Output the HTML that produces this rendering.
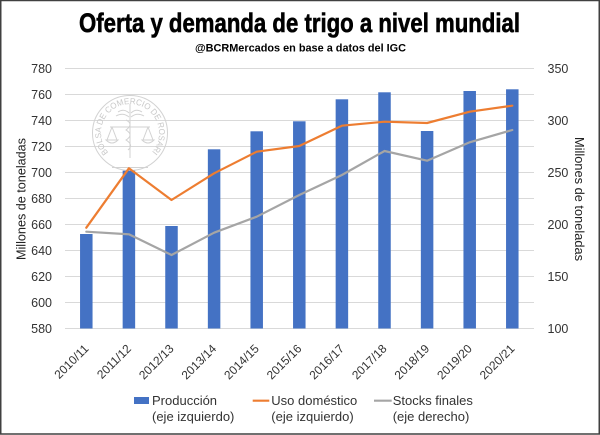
<!DOCTYPE html>
<html><head><meta charset="utf-8"><style>
html,body{margin:0;padding:0;background:#fff;}
#c{position:relative;width:600px;height:435px;overflow:hidden;background:#fff;}
svg{position:absolute;left:0;top:0;}
text{font-family:"Liberation Sans",sans-serif;}
</style></head><body><div id="c">
<svg width="600" height="435" viewBox="0 0 600 435" xmlns="http://www.w3.org/2000/svg">
<rect x="0.75" y="0.5" width="598.5" height="433.5" fill="#fff" stroke="#404040" stroke-width="1.5"/>
<!-- title -->
<text x="79" y="32" font-size="27" font-weight="bold" fill="#000" stroke="#000" stroke-width="0.6" textLength="441" lengthAdjust="spacingAndGlyphs">Oferta y demanda de trigo a nivel mundial</text>
<text x="195" y="51.5" font-size="11" font-weight="bold" fill="#000" textLength="211" lengthAdjust="spacingAndGlyphs">@BCRMercados  en base a datos del IGC</text>
<!-- gridlines -->
<g stroke="#D9D9D9" stroke-width="1">
<line x1="65" x2="534" y1="68.5" y2="68.5"/>
<line x1="65" x2="534" y1="94.5" y2="94.5"/>
<line x1="65" x2="534" y1="120.5" y2="120.5"/>
<line x1="65" x2="534" y1="146.5" y2="146.5"/>
<line x1="65" x2="534" y1="172.5" y2="172.5"/>
<line x1="65" x2="534" y1="198.5" y2="198.5"/>
<line x1="65" x2="534" y1="224.5" y2="224.5"/>
<line x1="65" x2="534" y1="250.5" y2="250.5"/>
<line x1="65" x2="534" y1="276.5" y2="276.5"/>
<line x1="65" x2="534" y1="302.5" y2="302.5"/>
<line x1="65" x2="534" y1="328.5" y2="328.5"/>
</g>
<!-- watermark -->
<g fill="none" stroke="#d2d2d2" stroke-width="1">
<circle cx="130" cy="133" r="37.5"/>
<path d="M118 112 Q124 108 129 113 M142 112 Q136 108 131 113" />
<path d="M116 116 Q123 112 129 117 M144 116 Q137 112 131 117" />
<line x1="130" y1="104" x2="130" y2="158"/>
<path d="M126 120 Q134 124 126 130 Q134 135 126 140 Q134 145 128 150"/>
<line x1="110" y1="127" x2="150" y2="127"/>
<path d="M112 127 L107 140 M112 127 L117 140 M148 127 L143 140 M148 127 L153 140"/>
<path d="M106 140 Q112 146 118 140 Z M142 140 Q148 146 154 140 Z"/>
<line x1="112" y1="167.5" x2="148" y2="167.5"/>
</g>
<path id="arc" d="M108.45 152.4 A29 29 0 1 1 151.55 152.4" fill="none"/>
<text font-size="8.5" fill="#c8c8c8"><textPath href="#arc" textLength="139" lengthAdjust="spacingAndGlyphs">BOLSA DE COMERCIO DE ROSARIO</textPath></text>
<!-- bars -->
<g fill="#4472C4">
<rect x="80.05" y="234" width="12.5" height="94.5"/>
<rect x="122.65" y="170.7" width="12.5" height="157.8"/>
<rect x="165.25" y="226" width="12.5" height="102.5"/>
<rect x="207.85" y="149.3" width="12.5" height="179.2"/>
<rect x="250.45" y="131.3" width="12.5" height="197.2"/>
<rect x="293.05" y="121.3" width="12.5" height="207.2"/>
<rect x="335.65" y="99.3" width="12.5" height="229.2"/>
<rect x="378.25" y="92.3" width="12.5" height="236.2"/>
<rect x="420.85" y="131" width="12.5" height="197.5"/>
<rect x="463.45" y="91" width="12.5" height="237.5"/>
<rect x="506.05" y="89.3" width="12.5" height="239.2"/>
</g>
<!-- lines -->
<polyline fill="none" stroke="#ED7D31" stroke-width="2.2" stroke-linejoin="round" stroke-linecap="round" points="86.3,227.7 128.9,168.3 171.5,200 214.1,173.3 256.7,151.7 299.3,146 341.9,125.7 384.5,121.7 427.1,123 469.7,111.7 512.3,105.7"/>
<polyline fill="none" stroke="#A5A5A5" stroke-width="2.2" stroke-linejoin="round" stroke-linecap="round" points="86.3,231.7 128.9,234.3 171.5,255 214.1,232.7 256.7,216.7 299.3,195 341.9,175 384.5,151 427.1,160.7 469.7,142.3 512.3,130"/>
<!-- left ticks -->
<g font-size="12.5" fill="#333" text-anchor="end">
<text x="52" y="73">780</text>
<text x="52" y="99">760</text>
<text x="52" y="125">740</text>
<text x="52" y="151">720</text>
<text x="52" y="177">700</text>
<text x="52" y="203">680</text>
<text x="52" y="229">660</text>
<text x="52" y="255">640</text>
<text x="52" y="281">620</text>
<text x="52" y="307">600</text>
<text x="52" y="333">580</text>
</g>
<!-- right ticks -->
<g font-size="12.5" fill="#333">
<text x="547.5" y="73">350</text>
<text x="547.5" y="125">300</text>
<text x="547.5" y="177">250</text>
<text x="547.5" y="229">200</text>
<text x="547.5" y="281">150</text>
<text x="547.5" y="333">100</text>
</g>
<!-- axis titles -->
<text transform="translate(25.5,199) rotate(-90)" font-size="12.5" fill="#222" text-anchor="middle" textLength="122" lengthAdjust="spacingAndGlyphs">Millones de toneladas</text>
<text transform="translate(575,199) rotate(90)" font-size="12.5" fill="#222" text-anchor="middle" textLength="124" lengthAdjust="spacingAndGlyphs">Millones de toneladas</text>
<!-- x labels -->
<g font-size="12" fill="#333" text-anchor="end">
<text transform="translate(89.3,349.4) rotate(-45)">2010/11</text>
<text transform="translate(131.9,349.4) rotate(-45)">2011/12</text>
<text transform="translate(174.5,349.4) rotate(-45)">2012/13</text>
<text transform="translate(217.1,349.4) rotate(-45)">2013/14</text>
<text transform="translate(259.7,349.4) rotate(-45)">2014/15</text>
<text transform="translate(302.3,349.4) rotate(-45)">2015/16</text>
<text transform="translate(344.9,349.4) rotate(-45)">2016/17</text>
<text transform="translate(387.5,349.4) rotate(-45)">2017/18</text>
<text transform="translate(430.1,349.4) rotate(-45)">2018/19</text>
<text transform="translate(472.7,349.4) rotate(-45)">2019/20</text>
<text transform="translate(515.3,349.4) rotate(-45)">2020/21</text>
</g>
<!-- legend -->
<rect x="134" y="397" width="15" height="7" fill="#4472C4"/>
<line x1="252.7" x2="269.3" y1="400.7" y2="400.7" stroke="#ED7D31" stroke-width="2.2"/>
<line x1="374" x2="391.7" y1="400.7" y2="400.7" stroke="#A5A5A5" stroke-width="2.2"/>
<g font-size="13" fill="#333">
<text x="152" y="405">Producción</text>
<text x="152" y="421">(eje izquierdo)</text>
<text x="271.3" y="405">Uso doméstico</text>
<text x="271.3" y="421">(eje izquierdo)</text>
<text x="392.7" y="405">Stocks finales</text>
<text x="392.7" y="421">(eje derecho)</text>
</g>
</svg>
</div></body></html>
